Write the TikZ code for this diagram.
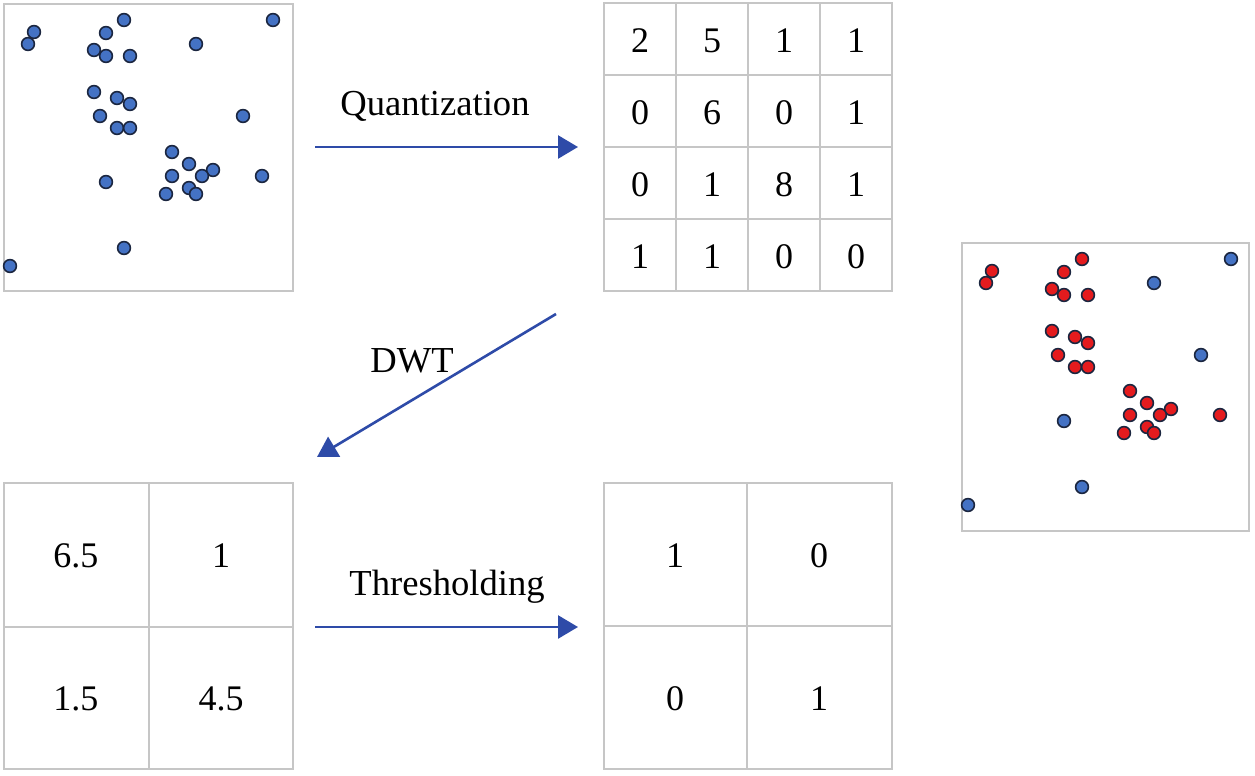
\documentclass[tikz,border=0pt]{standalone}
\usepackage{fontspec}
\setmainfont{Liberation Serif}
\usetikzlibrary{arrows.meta}

\definecolor{dotblue}{HTML}{4472C4}
\definecolor{dotred}{HTML}{E41B1E}
\definecolor{dotedge}{HTML}{1B2640}
\definecolor{arrowblue}{HTML}{2E4BA8}
\definecolor{cellgray}{HTML}{C6C6C6}

\tikzset{
  cellline/.style={draw=cellgray, line width=1pt},
  bluedot/.style={fill=dotblue, draw=dotedge, line width=0.8pt},
  reddot/.style={fill=dotred, draw=dotedge, line width=0.8pt},
  steparrow/.style={arrowblue, line width=1.3pt, -{Triangle[length=10pt,width=11.5pt]}},
  steptext/.style={anchor=base, inner sep=0pt, font=\fontsize{18.3}{22}\selectfont},
  cellnum/.style={inner sep=0pt, font=\fontsize{18}{22}\selectfont}
}

% points of the cluster / outliers
\newcommand{\clusterpts}{34/32, 28/44, 124/20, 106/33, 94/50, 106/56, 130/56,
  94/92, 117/98, 130/104, 100/116, 117/128, 130/128, 172/152, 189/164,
  213/170, 202/176, 172/176, 262/176, 189/188, 196/194, 166/194}
\newcommand{\outlierpts}{273/20, 196/44, 243/116, 106/182, 124/248, 10/266}

\begin{document}
\begin{tikzpicture}[x=0.5pt, y=-0.5pt]
    \useasboundingbox (0,0) rectangle (1255,776);

    % Input points
    \draw[cellline] (4,4) rectangle (293,291);
    \foreach \x/\y in \clusterpts
        \draw[bluedot] (\x,\y) circle (3.2pt);
    \foreach \x/\y in \outlierpts
        \draw[bluedot] (\x,\y) circle (3.2pt);

    % Quantized counts (4x4)
    \draw[cellline] (604,3) rectangle (892,291);
    \foreach \k in {1,2,3} {
        \draw[cellline] (604+72*\k,3) -- (604+72*\k,291);
        \draw[cellline] (604,3+72*\k) -- (892,3+72*\k);
    }
    \foreach \row [count=\r] in {{2,5,1,1},{0,6,0,1},{0,1,8,1},{1,1,0,0}}
        \foreach \v [count=\c] in \row
            \node[cellnum] (q-\r-\c) at ({568+72*\c}, {-31+72*\r}) {\v};

    % DWT coefficients (2x2)
    \draw[cellline] (4,483) rectangle (293,769);
    \draw[cellline] (149,483) -- (149,769);
    \draw[cellline] (4,627) -- (293,627);
    \node[cellnum] (w-1-1) at (76,556) {6.5};
    \node[cellnum] (w-1-2) at (221,556) {1};
    \node[cellnum] (w-2-1) at (76,699) {1.5};
    \node[cellnum] (w-2-2) at (221,699) {4.5};

    % Thresholded mask (2x2)
    \draw[cellline] (604,483) rectangle (892,769);
    \draw[cellline] (747,483) -- (747,769);
    \draw[cellline] (604,626) -- (892,626);
    \node[cellnum] (t-1-1) at (675,556) {1};
    \node[cellnum] (t-1-2) at (819,556) {0};
    \node[cellnum] (t-2-1) at (675,699) {0};
    \node[cellnum] (t-2-2) at (819,699) {1};

    % Result: cluster points in red
    \draw[cellline] (962,243) rectangle (1249,531);
    \begin{scope}[shift={(958,239)}]
        \foreach \x/\y in \clusterpts
            \draw[reddot] (\x,\y) circle (3.2pt);
        \foreach \x/\y in \outlierpts
            \draw[bluedot] (\x,\y) circle (3.2pt);
    \end{scope}

    % Steps
    \coordinate (quant-in) at (315,147);
    \coordinate (quant-out) at (578,147);
    \coordinate (dwt-in) at (556,314);
    \coordinate (dwt-out) at (317,457);
    \coordinate (thr-in) at (315,627);
    \coordinate (thr-out) at (578,627);
    \draw[steparrow] (quant-in) -- (quant-out);
    \draw[steparrow] (dwt-in) -- (dwt-out);
    \draw[steparrow] (thr-in) -- (thr-out);
    \node[steptext] (quant-text) at (435,115) {Quantization};
    \node[steptext] (dwt-text) at (412,372) {DWT};
    \node[steptext] (thr-text) at (447,595) {Thresholding};
\end{tikzpicture}
\end{document}
